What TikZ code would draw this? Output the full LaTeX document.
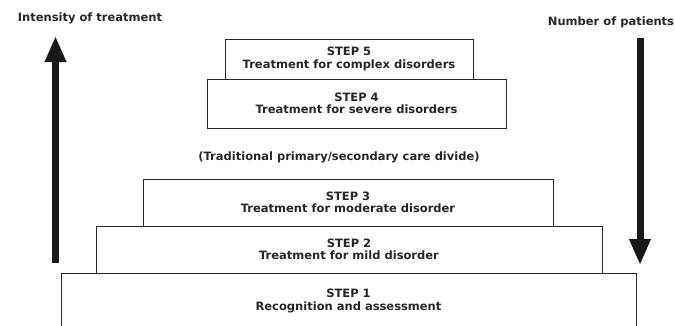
\documentclass[tikz,border=0pt]{standalone}
\usepackage{fontspec}
\setmainfont{DejaVu Sans}
\usetikzlibrary{arrows.meta}

\begin{document}
\begin{tikzpicture}[
      x=1pt, y=-1pt,
      stepbox/.style={draw=black!85, line width=0.9pt, align=center, inner sep=0pt,
        font=\fontsize{11.5}{12.5}\selectfont\bfseries, text=black!85},
      label/.style={font=\fontsize{11.5}{12.5}\selectfont\bfseries, text=black!85},
      bigarrow/.style={line width=7pt, black!90, -{Triangle[width=20pt,length=26pt]}},
    ]
    \clip (0,0) rectangle (675,325);
    % The steps, top to bottom.
    \node[stepbox, minimum width=248pt, minimum height=40pt] (S5) at (349,59)
        {STEP 5\\Treatment for complex disorders};
    \node[stepbox, minimum width=299pt, minimum height=49pt] (S4) at (356.5,103.5)
        {STEP 4\\Treatment for severe disorders};
    \node[label] (divide) at (339,157) {(Traditional primary/secondary care divide)};
    \node[stepbox, minimum width=410pt, minimum height=47pt] (S3) at (348,202.5)
        {STEP 3\\Treatment for moderate disorder};
    \node[stepbox, minimum width=506pt, minimum height=47pt] (S2) at (349,249.5)
        {STEP 2\\Treatment for mild disorder};
    \node[stepbox, minimum width=575pt, minimum height=56pt] (S1) at (348.5,301)
        {STEP 1\\Recognition and assessment};

    % The two arrows at the sides.
    \node[label] (intensity) at (90,18) {Intensity of treatment};
    \node[label] (patients) at (611,22) {Number of patients};
    \coordinate (I_a) at (55.5,263);
    \coordinate (I_b) at (55.5,36);
    \coordinate (P_a) at (640,38);
    \coordinate (P_b) at (640,265);
    \draw[bigarrow] (I_a) -- (I_b);
    \draw[bigarrow] (P_a) -- (P_b);
\end{tikzpicture}
\end{document}
